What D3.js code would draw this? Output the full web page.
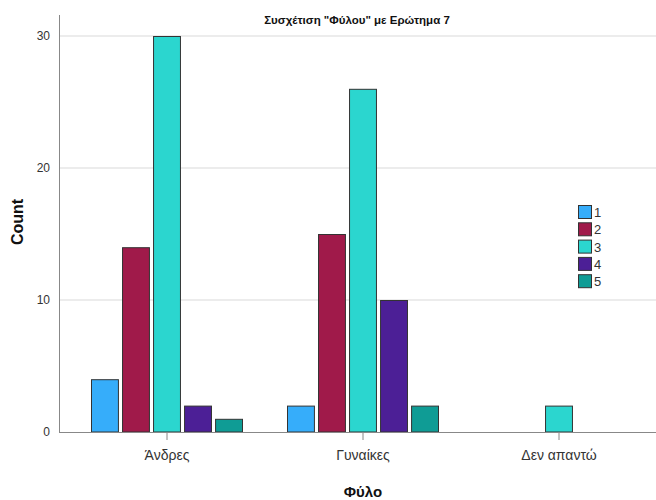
<!DOCTYPE html>
<html>
<head>
<meta charset="utf-8">
<script src="https://cdn.jsdelivr.net/npm/d3@7"></script>
<style>
  body { margin: 0; background: #fff; }
  svg { display: block; }
</style>
</head>
<body>
<svg id="chart" width="656" height="500"></svg>
<script>
// Gender categories (x axis)
const categories = ["Άνδρες", "Γυναίκες", "Δεν απαντώ"];
// Answer levels for question 7 (legend)
const answers = ["1", "2", "3", "4", "5"];
// Counts per category, one array per answer level
const answer1 = [4, 2, 0];
const answer2 = [14, 15, 0];
const answer3 = [30, 26, 2];
const answer4 = [2, 10, 0];
const answer5 = [1, 2, 0];
const yTicks = [0, 10, 20, 30];
const colors = ["#36adfa", "#a01a4a", "#2bd6cf", "#4c1f96", "#0f9c95"];

const seriesValues = [answer1, answer2, answer3, answer4, answer5];

const svg = d3.select("#chart");
const plot = { left: 59, right: 656, top: 15, bottom: 432 };

const x = d3.scaleBand().domain(categories).range([69, 657]).paddingInner(0).paddingOuter(0);
const y = d3.scaleLinear().domain([0, 30]).range([plot.bottom, 36]);

const groupWidth = 152;
const xInner = d3.scaleBand().domain(answers).range([0, groupWidth]).paddingInner(0.1).paddingOuter(0);

// Horizontal gridlines
svg.append("g")
  .selectAll("line")
  .data(yTicks.filter(d => d > 0))
  .join("line")
  .attr("x1", plot.left).attr("x2", plot.right)
  .attr("y1", d => y(d)).attr("y2", d => y(d))
  .attr("stroke", "#d9d9d9").attr("stroke-width", 1);

// Y axis
const yAxis = svg.append("g")
  .attr("transform", `translate(${plot.left},0)`)
  .call(d3.axisLeft(y).tickValues(yTicks).tickSize(0).tickPadding(9));
yAxis.select(".domain").remove();
yAxis.selectAll("text")
  .attr("font-family", "Liberation Sans, Arial, sans-serif")
  .attr("font-size", 12).attr("fill", "#333");
svg.append("line")
  .attr("x1", plot.left + 0.5).attr("x2", plot.left + 0.5)
  .attr("y1", plot.top).attr("y2", plot.bottom)
  .attr("stroke", "#888").attr("stroke-width", 1);

// Bars
const groups = svg.append("g")
  .selectAll("g")
  .data(categories)
  .join("g")
  .attr("transform", d => `translate(${x(d) + x.bandwidth() / 2 - groupWidth / 2},0)`);

groups.selectAll("rect")
  .data((c, ci) => answers.map((a, ai) => ({ a, ai, v: seriesValues[ai][ci] })).filter(d => d.v > 0))
  .join("rect")
  .attr("x", d => xInner(d.a) + 0.5)
  .attr("y", d => y(d.v) + 0.5)
  .attr("width", xInner.bandwidth() - 1)
  .attr("height", d => y(0) - y(d.v) - 0.5)
  .attr("fill", d => colors[d.ai])
  .attr("stroke", "#333").attr("stroke-width", 1);

// X axis
const xAxis = svg.append("g")
  .attr("transform", `translate(0,${plot.bottom})`)
  .call(d3.axisBottom(x).tickSize(8).tickPadding(10));
xAxis.select(".domain").remove();
xAxis.selectAll(".tick line").attr("stroke", "#888");
xAxis.selectAll("text")
  .attr("font-family", "Liberation Sans, Arial, sans-serif")
  .attr("font-size", 14).attr("fill", "#333");
svg.append("line")
  .attr("x1", plot.left).attr("x2", plot.right)
  .attr("y1", plot.bottom + 0.5).attr("y2", plot.bottom + 0.5)
  .attr("stroke", "#888").attr("stroke-width", 1);

// Title
svg.append("text")
  .attr("x", 357).attr("y", 24)
  .attr("text-anchor", "middle")
  .attr("font-family", "Liberation Sans Narrow, Arial Narrow, Liberation Sans, sans-serif")
  .attr("font-stretch", "condensed")
  .attr("font-weight", "bold").attr("font-size", 11.5).attr("fill", "#111")
  .text('Συσχέτιση "Φύλου" με Ερώτημα 7');

// Axis titles
svg.append("text")
  .attr("transform", "translate(23,222) rotate(-90)")
  .attr("text-anchor", "middle")
  .attr("font-family", "Liberation Sans, Arial, sans-serif")
  .attr("font-weight", "bold").attr("font-size", 16).attr("fill", "#111")
  .text("Count");
svg.append("text")
  .attr("x", 363).attr("y", 497)
  .attr("text-anchor", "middle")
  .attr("font-family", "Liberation Sans, Arial, sans-serif")
  .attr("font-weight", "bold").attr("font-size", 15).attr("fill", "#111")
  .text("Φύλο");

// Legend
const legend = svg.append("g").attr("transform", "translate(578,205)");
const items = legend.selectAll("g")
  .data(answers)
  .join("g")
  .attr("transform", (d, i) => `translate(0,${i * 17.3})`);
items.append("rect")
  .attr("x", 0.5).attr("y", 0.5).attr("width", 13).attr("height", 13)
  .attr("fill", (d, i) => colors[i])
  .attr("stroke", "#333").attr("stroke-width", 1);
items.append("text")
  .attr("x", 16).attr("y", 12)
  .attr("font-family", "Liberation Sans, Arial, sans-serif")
  .attr("font-size", 13).attr("fill", "#333")
  .text(d => d);
</script>
</body>
</html>
